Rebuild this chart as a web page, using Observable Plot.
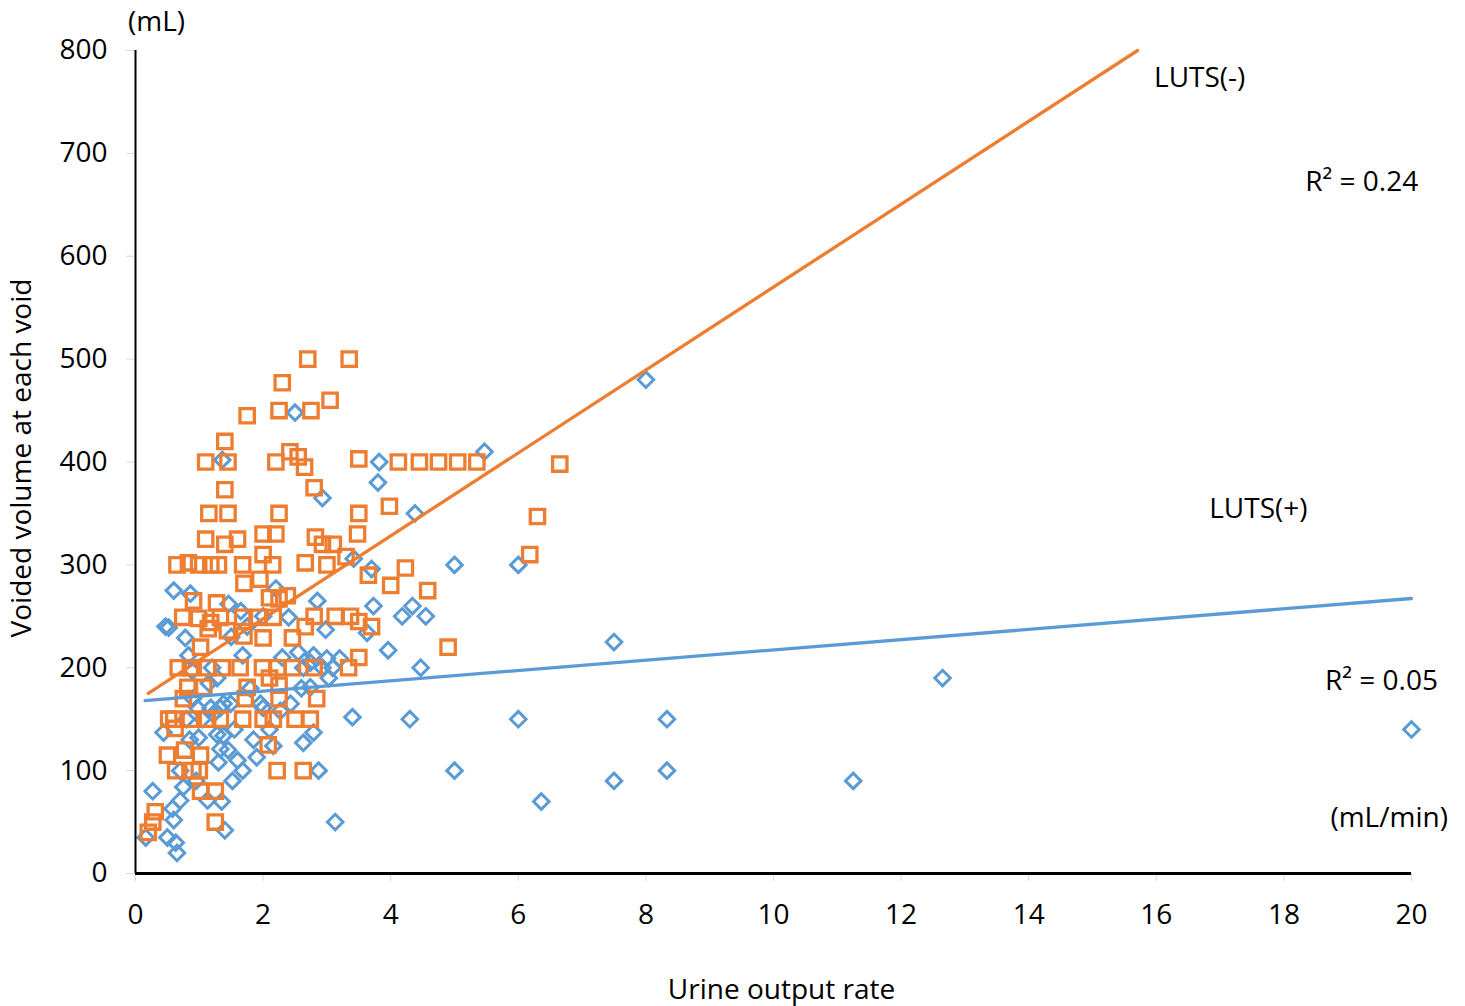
<!DOCTYPE html>
<html><head><meta charset="utf-8">
<script src="https://cdn.jsdelivr.net/npm/d3@7"></script>
<script src="https://cdn.jsdelivr.net/npm/@observablehq/plot@0.6"></script>
<style>body{margin:0;background:#fff} #chart svg{display:block}</style>
</head><body><div id="chart"></div>
<script>
// LUTS(-) series (orange squares)
const negX = [2.7,3.35,2.3,2.25,2.75,3.05,1.75,1.4,1.1,1.45,2.2,2.42,2.55,2.65,1.4,2.8,1.15,1.45,2.25,3.5,4.12,4.45,4.75,5.05,5.35,6.65,6.3,6.18,3.5,3.98,3.48,2.82,2.93,3.1,3.3,2.66,3.0,3.65,4.0,4.23,4.58,4.9,2.8,2.66,3.13,3.37,3.5,3.7,3.5,2.8,3.34,2.84,2.74,1.1,1.4,1.6,2.0,2.2,0.65,0.83,0.99,1.18,1.3,1.68,2.0,2.15,1.7,1.95,2.1,2.25,2.38,0.91,1.27,0.74,0.99,1.18,1.33,1.68,1.93,2.16,1.14,1.44,1.7,2.0,2.46,1.02,0.67,0.86,1.13,1.36,1.64,1.99,2.23,2.46,2.1,0.82,1.07,1.75,2.25,0.75,1.72,2.25,0.52,0.6,0.86,1.13,1.33,1.68,2.0,2.16,2.5,0.62,2.08,0.5,0.77,1.02,0.63,0.9,1.0,2.22,2.63,1.02,1.25,0.31,0.27,0.2,1.25];
const negY = [500,500,477,450,450,460,445,420,400,400,400,410,405,395,373,375,350,350,350,403,400,400,400,400,400,398,347,310,350,357,330,327,320,320,308,302,300,290,280,297,275,220,250,240,250,250,245,240,210,200,200,170,150,325,320,325,330,330,300,302,300,300,300,300,310,300,282,286,268,267,270,265,263,249,248,244,249,249,249,249,238,236,231,229,229,220,200,200,200,200,200,200,200,200,190,181,181,181,183,170,170,170,150,150,150,150,150,150,150,150,150,141,125,115,120,115,100,100,100,100,100,80,80,60,50,40,50];

// LUTS(+) series (blue diamonds)
const posX = [8,5.47,3.82,3.8,4.38,2.5,2.93,1.36,6.0,5.0,4.55,4.47,4.34,4.18,3.96,4.3,5.0,3.4,3.13,2.87,6.36,7.5,7.5,6.0,8.33,8.33,11.25,12.65,20,3.73,2.98,3.63,2.79,3.0,3.2,3.09,3.03,2.74,2.63,3.42,3.7,2.79,2.63,0.27,0.16,0.63,0.65,0.58,0.6,0.5,0.7,0.75,1.13,1.35,1.4,1.52,1.68,1.6,1.9,1.3,1.33,1.28,1.38,0.99,0.44,0.97,1.18,1.33,1.49,2.16,2.27,2.0,1.22,0.6,0.52,0.47,0.86,0.78,1.46,2.4,1.68,1.28,0.83,0.89,2.74,2.93,1.96,1.38,2.43,0.9,1.05,0.85,1.55,1.8,1.2,1.5,2.0,2.2,1.65,2.3,2.6,2.1,1.85,0.7,0.95,1.15,1.75,2.55,2.85,1.45,0.8];
const posY = [480,410,400,380,350,448,365,402,300,300,250,200,260,250,217,150,100,152,50,100,70,90,225,150,150,100,90,190,140,260,237,234,212,209,209,200,190,181,200,306,296,137,127,80,35,30,20,63,52,35,71,84,71,70,42,90,100,110,113,108,121,135,134,132,137,161,161,161,165,124,158,161,155,275,239,240,272,229,262,249,212,190,212,197,205,200,165,165,165,170,150,130,140,180,200,230,250,277,255,210,180,140,130,100,90,185,240,215,265,120,150];

// Linear trend lines (y = slope * x + intercept)
const trendSeries = ["LUTS(+)", "LUTS(-)"];
const trendSlope = [5.0, 40.3];
const trendIntercept = [167.3, 167];
const trendXStart = [0.15, 0.2];

const xTicks = [0,2,4,6,8,10,12,14,16,18,20];
const yTicks = [0,100,200,300,400,500,600,700,800];

// annotation texts and their positions (data units)
const annoText = ["LUTS(-)", "R\u00B2 = 0.24", "LUTS(+)", "R\u00B2 = 0.05", "(mL/min)", "(mL)"];
const annoX = [16.68, 19.22, 17.6, 19.53, 19.65, 0.33];
const annoY = [773, 672, 354, 187, 54, 828];

const ORANGE = "#ED7D31", BLUE = "#5B9BD5";
const neg = negX.map((x, i) => ({x, y: negY[i]}));
const pos = posX.map((x, i) => ({x, y: posY[i]}));
const yMax = yTicks[yTicks.length - 1], xMax = xTicks[xTicks.length - 1];
const trends = trendSeries.flatMap((s, i) => {
  const m = trendSlope[i], b = trendIntercept[i];
  const x0 = trendXStart[i];
  const x1 = Math.min(xMax, (yMax - b) / m);
  return [{s, x: x0, y: m * x0 + b}, {s, x: x1, y: m * x1 + b}];
});
const annos = annoText.map((t, i) => ({t, x: annoX[i], y: annoY[i]}));

const chart = Plot.plot({
  width: 1465, height: 1006,
  marginLeft: 135, marginRight: 54, marginTop: 50, marginBottom: 133,
  style: {fontFamily: "'Open Sans', sans-serif", fontSize: "28px", background: "white", color: "black"},
  x: {domain: [0, xMax]},
  y: {domain: [0, yMax]},
  marks: [
    Plot.axisY({ticks: yTicks, tickSize: 9, stroke: "#d9d9d9", tickFormat: () => "", label: null}),
    Plot.axisY({ticks: yTicks, tickSize: 0, tickPadding: 28, fill: "black", fontSize: 28, label: null}),
    Plot.axisX({ticks: xTicks, tickSize: 8, stroke: "#d9d9d9", tickFormat: () => "", label: null}),
    Plot.axisX({ticks: xTicks, tickSize: 0, tickPadding: 31, fill: "black", fontSize: 28, label: null}),
    Plot.text(["Voided volume at each void"], {frameAnchor: "left", rotate: -90, dx: -113, dy: -4, textAnchor: "middle", lineAnchor: "middle", fontSize: 28, fill: "black"}),
    Plot.text(["Urine output rate"], {frameAnchor: "bottom", dx: 8, dy: 117, textAnchor: "middle", lineAnchor: "middle", fontSize: 28, fill: "black"}),
    Plot.dot(pos, {x: "x", y: "y", symbol: "diamond2", r: 7, stroke: BLUE, strokeWidth: 3, fill: "none"}),
    Plot.dot(neg, {x: "x", y: "y", symbol: "square", r: 8.1, stroke: ORANGE, strokeWidth: 3.3, fill: "none"}),
    Plot.line(trends, {x: "x", y: "y", z: "s", stroke: d => d.s === "LUTS(-)" ? ORANGE : BLUE, strokeWidth: 3.3}),
    Plot.ruleX([0], {stroke: "black", strokeWidth: 2}),
    Plot.ruleY([0], {stroke: "black", strokeWidth: 3}),
    Plot.text(annos, {x: "x", y: "y", text: "t", fontSize: 28, fill: "black", lineAnchor: "middle"})
  ]
});
document.getElementById("chart").appendChild(chart);
</script>
</body></html>
